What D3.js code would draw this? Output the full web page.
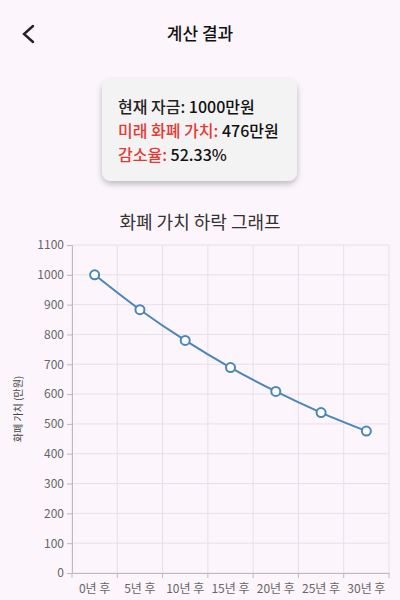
<!DOCTYPE html>
<html><head><meta charset="utf-8">
<script src="https://cdn.jsdelivr.net/npm/d3@7"></script>
<style>
body{margin:0;background:#fcf5fc;font-family:"Noto Sans CJK KR","Noto Sans",sans-serif;}
</style></head><body>
<svg id="c" width="400" height="600"></svg>
<script>
const categories=["0년 후","5년 후","10년 후","15년 후","20년 후","25년 후","30년 후"];
const values=[1000,883,780,689,609,538,476];
const yTicks=[0,100,200,300,400,500,600,700,800,900,1000,1100];

const svg=d3.select("#c");
const font='"Noto Sans CJK KR","Noto Sans",sans-serif';
svg.append("rect").attr("width",400).attr("height",600).attr("fill","#fcf5fc");
svg.append("path").attr("d","M33,26 L24,34 L33,42").attr("fill","none").attr("stroke","#222").attr("stroke-width",2.4).attr("stroke-linecap","round");
svg.append("text").attr("x",200).attr("y",40).attr("text-anchor","middle").attr("font-family",font).attr("font-size",17).attr("font-weight",500).attr("fill","#111").text("계산 결과");
const defs=svg.append("defs");
const f=defs.append("filter").attr("id","sh").attr("x","-20%").attr("y","-20%").attr("width","140%").attr("height","150%");
f.append("feDropShadow").attr("dx",0).attr("dy",3).attr("stdDeviation",3).attr("flood-color","#000").attr("flood-opacity",0.25);
svg.append("rect").attr("x",102).attr("y",79).attr("width",195).attr("height",102).attr("rx",9).attr("fill","#f4f3f4").attr("filter","url(#sh)");
const lines=[[["현재 자금: ","#222"],["1000만원","#111"]],[["미래 화폐 가치: ","#e53935"],["476만원","#111"]],[["감소율: ","#e53935"],["52.33%","#111"]]];
lines.forEach((l,i)=>{const t=svg.append("text").attr("x",118).attr("y",113+i*24).attr("font-family",font).attr("font-size",16).attr("font-weight",500);
 l.forEach(s=>t.append("tspan").attr("fill",s[1]).text(s[0]));});
svg.append("text").attr("x",200).attr("y",229).attr("text-anchor","middle").attr("font-family",font).attr("font-size",18).attr("fill","#333").text("화폐 가치 하락 그래프");

const L=72,R=389,T=245,B=573;
const x=d3.scaleBand().domain(categories).range([L,R]);
const y=d3.scaleLinear().domain([0,1100]).range([B,T]);
const g=svg.append("g");
g.selectAll(".hg").data(yTicks).enter().append("line").attr("x1",L).attr("x2",R).attr("y1",d=>y(d)).attr("y2",d=>y(d)).attr("stroke","#e6e0e8");
const edges=categories.map(c=>x(c)).concat([R]);
g.selectAll(".vg").data(edges).enter().append("line").attr("x1",d=>d).attr("x2",d=>d).attr("y1",T).attr("y2",B).attr("stroke","#e6e0e8");
const ya=svg.append("g").attr("transform",`translate(${L},0)`).call(d3.axisLeft(y).tickValues(yTicks).tickFormat(d3.format("d")).tickSize(5).tickSizeOuter(0));
const xa=svg.append("g").attr("transform",`translate(0,${B})`).call(d3.axisBottom(x).tickSize(0));
xa.selectAll(".tick line").remove();
xa.selectAll(".edge").data(edges).enter().append("line").attr("x1",d=>d).attr("x2",d=>d).attr("y1",0).attr("y2",5).attr("stroke","#bbb");
[ya,xa].forEach(a=>{a.select(".domain").attr("stroke","#bbb");a.selectAll("line").attr("stroke","#bbb");
 a.selectAll("text").attr("font-family",font).attr("font-size",12).attr("fill","#666");});
xa.selectAll("text").attr("dy","1.4em");
svg.append("text").attr("transform","translate(22,409) rotate(-90)").attr("text-anchor","middle").attr("font-family",font).attr("font-size",10).attr("fill","#444").text("화폐 가치 (만원)");
const cx=d=>x(d)+x.bandwidth()/2;
svg.append("path").datum(values).attr("fill","none").attr("stroke","#4a86b8").attr("stroke-width",2)
 .attr("d",d3.line().x((d,i)=>cx(categories[i])).y(d=>y(d)).curve(d3.curveMonotoneX));
svg.selectAll(".pt").data(values).enter().append("circle").attr("cx",(d,i)=>cx(categories[i])).attr("cy",d=>y(d)).attr("r",4.5)
 .attr("fill","#fff").attr("stroke","#4a86b8").attr("stroke-width",2);
</script></body></html>
